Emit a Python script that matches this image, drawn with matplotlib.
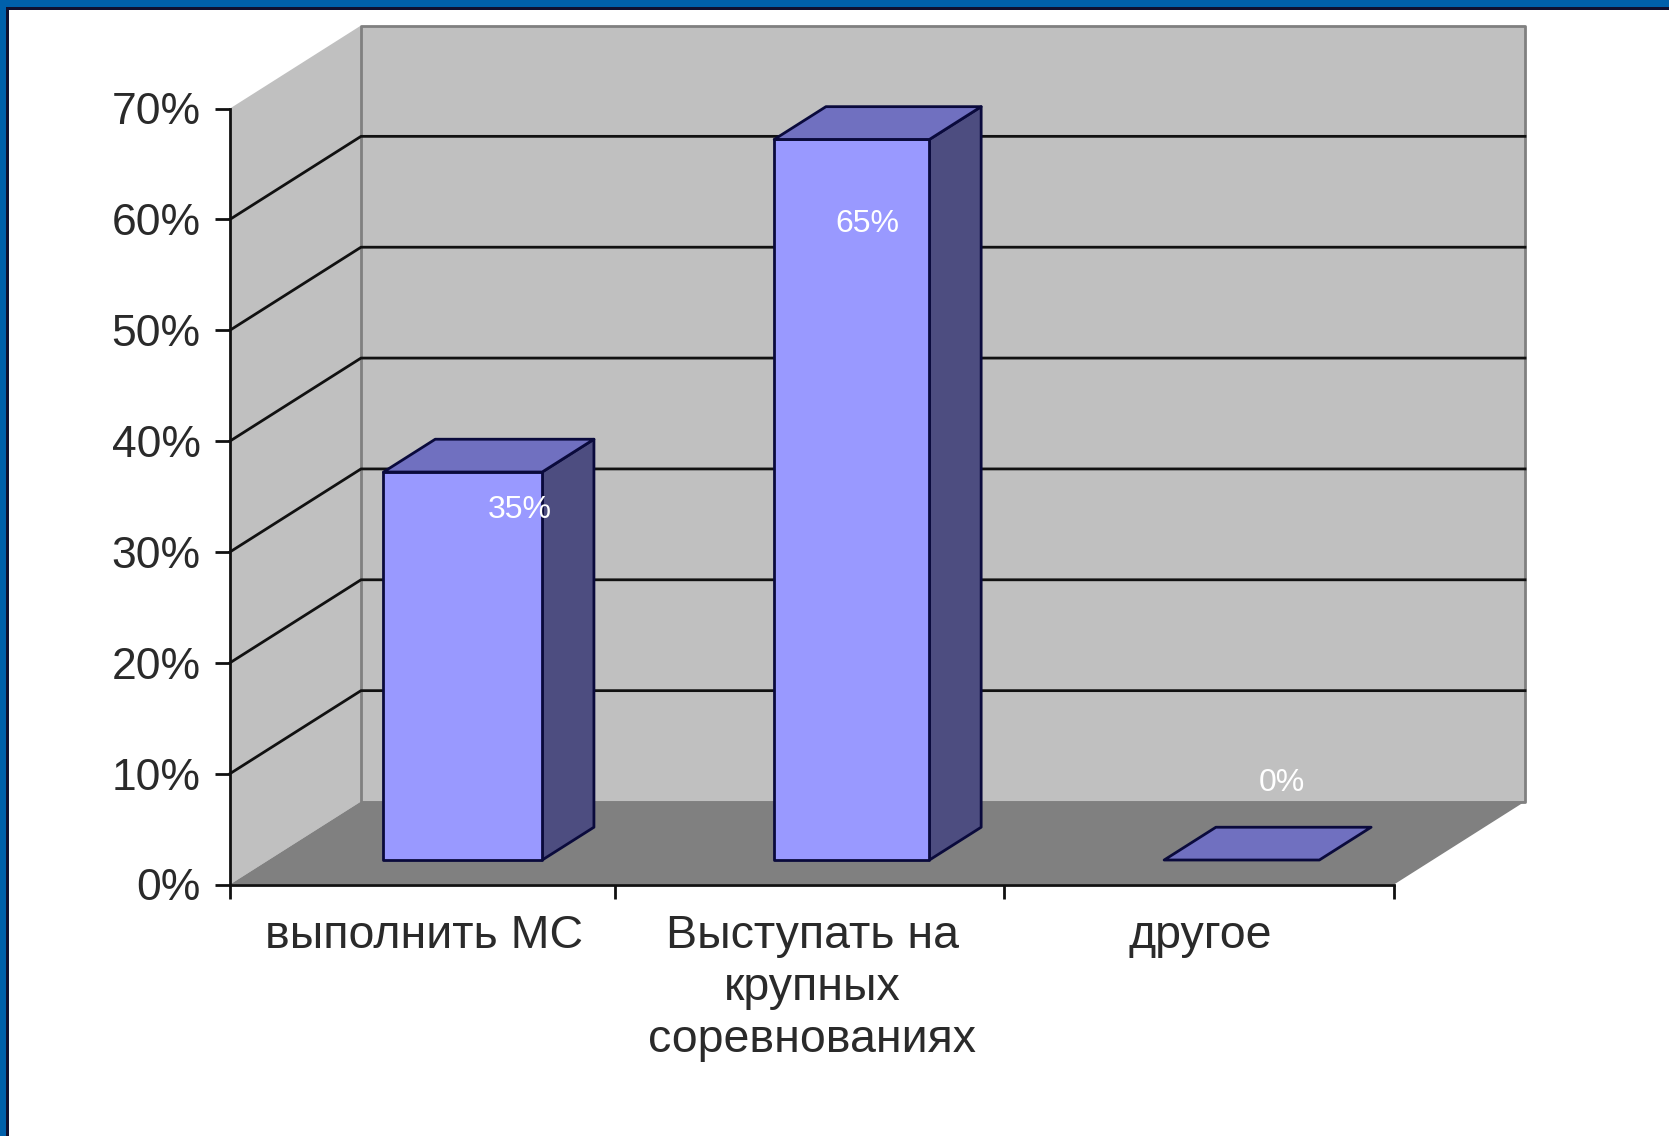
import matplotlib
matplotlib.use("Agg")
import matplotlib.pyplot as plt
from matplotlib.patches import Polygon, Rectangle

plt.rcParams['font.family'] = ['Liberation Sans', 'DejaVu Sans']

categories = ["выполнить МС", "Выступать на\nкрупных\nсоревнованиях", "другое"]
values = [35, 65, 0]
labels = ["35%", "65%", "0%"]
label_x = [0.746, 1.643, 2.711]
label_y = [33.8, 59.6, 9.2]
yticks = [0, 10, 20, 30, 40, 50, 60, 70]
xticks = [0, 0.992, 1.994, 3]
bar_left = [0.296, 1.303, 2.308]
bar_right = [0.705, 1.703, 2.708]

W, H = 1669, 1136
L, R, T, B = 230, 1394, 108.5, 884.5

# depth of the 3d box, in data units
depth_x = 131 / (R - L) * 3
depth_y = 83 / (B - T) * 70
# bars sit between these depth fractions
d0, d1 = 0.295, 0.69

fig = plt.figure(figsize=(W / 100, H / 100), dpi=100, facecolor='white')
ax = fig.add_axes([L / W, 1 - B / H, (R - L) / W, (B - T) / H])
ax.set_xlim(0, 3)
ax.set_ylim(0, 70)
ax.patch.set_visible(False)
for s in ['top', 'right']:
    ax.spines[s].set_visible(False)
for s in ['left', 'bottom']:
    ax.spines[s].set_linewidth(2)
    ax.spines[s].set_color('#111111')
    ax.spines[s].set_zorder(6)


def box(x, y, d):
    return (x + depth_x * d, y + depth_y * d)


def poly(pts, fc, ec='none', lw=0, z=1):
    ax.add_patch(Polygon(pts, closed=True, facecolor=fc, edgecolor=ec, linewidth=lw,
                         clip_on=False, zorder=z, joinstyle='round'))


# walls and floor
poly([box(0, 0, 0), box(0, 70, 0), box(0, 70, 1), box(0, 0, 1)], '#c0c0c0', z=1)
poly([box(0, 0, 1), box(0, 70, 1), box(3, 70, 1), box(3, 0, 1)], '#c0c0c0', '#808080', 2, z=1)
poly([box(0, 0, 0), box(0, 0, 1), box(3, 0, 1), box(3, 0, 0)], '#808080', z=2)

# grid lines
for v in yticks[1:-1]:
    a = box(0, v, 0)
    b = box(0, v, 1)
    c = box(3, v, 1)
    ax.plot([a[0], b[0], c[0]], [a[1], b[1], c[1]], color='#111111', lw=2, clip_on=False, zorder=1.5)

# bars
for i, v in enumerate(values):
    x0 = bar_left[i]
    x1 = bar_right[i]
    if v > 0:
        poly([box(x1, 0, d0), box(x1, v, d0), box(x1, v, d1), box(x1, 0, d1)], '#4d4d80', '#0a0a3c', 2, z=3)
        poly([box(x0, 0, d0), box(x0, v, d0), box(x1, v, d0), box(x1, 0, d0)], '#9999ff', '#0a0a3c', 2, z=3)
    poly([box(x0, v, d0), box(x0, v, d1), box(x1, v, d1), box(x1, v, d0)], '#7070c0', '#0a0a3c', 2, z=3)

for x, y, t in zip(label_x, label_y, labels):
    ax.text(x, y, t, color='white', fontsize=23, ha='center', va='center', zorder=7)

ax.set_yticks(yticks)
ax.set_yticklabels([str(v) + "%" for v in yticks])
ax.set_xticks(xticks)
ax.set_xticklabels([])
ax.set_xticks([0.5, 1.5, 2.5], minor=True)
ax.set_xticklabels(categories, minor=True, linespacing=1.24)
ax.tick_params(axis='y', labelsize=32, length=11, width=2, color='#111111', labelcolor='#2a2a2a', pad=10)
ax.tick_params(axis='x', which='major', length=10, width=2, color='#111111')
ax.tick_params(axis='x', which='minor', length=0, labelsize=33.5, labelcolor='#2a2a2a', pad=21)

# blue frame of the slide
fig.add_artist(Rectangle((0, 1 - 7 / H), 1, 7 / H, transform=fig.transFigure, facecolor='#0060ab', edgecolor='none'))
fig.add_artist(Rectangle((0, 1 - 9.5 / H), 1, 2.5 / H, transform=fig.transFigure, facecolor='#101030', edgecolor='none'))
fig.add_artist(Rectangle((0, 0), 6 / W, 1, transform=fig.transFigure, facecolor='#0060ab', edgecolor='none'))
fig.add_artist(Rectangle((6 / W, 0), 2.5 / W, 1 - 7 / H, transform=fig.transFigure, facecolor='#101030', edgecolor='none'))

fig.savefig("out.png", dpi=100)
